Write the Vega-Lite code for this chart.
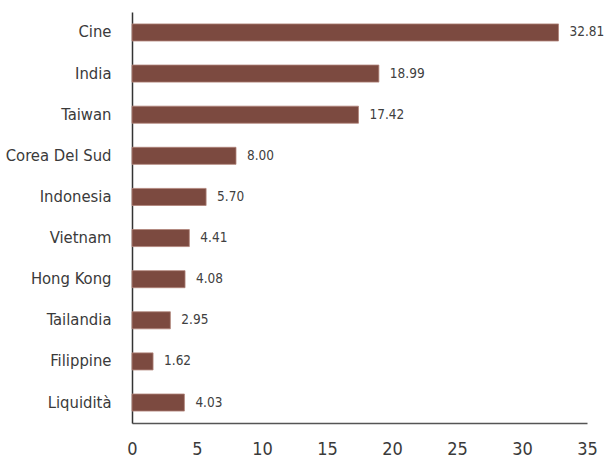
{
  "$schema": "https://vega.github.io/schema/vega-lite/v6.json",
  "autosize": {"type": "none"},
  "width": 455,
  "height": 411,
  "padding": {"left": 132, "top": 12, "right": 17, "bottom": 35},
  "background": "white",
  "config": {"view": {"stroke": null}, "font": "DejaVu Sans Condensed"},
  "data": {
    "values": [
      {"paese": "Cine", "valore": 32.81},
      {"paese": "India", "valore": 18.99},
      {"paese": "Taiwan", "valore": 17.42},
      {"paese": "Corea Del Sud", "valore": 8.00},
      {"paese": "Indonesia", "valore": 5.70},
      {"paese": "Vietnam", "valore": 4.41},
      {"paese": "Hong Kong", "valore": 4.08},
      {"paese": "Tailandia", "valore": 2.95},
      {"paese": "Filippine", "valore": 1.62},
      {"paese": "Liquidità", "valore": 4.03}
    ]
  },
  "encoding": {
    "y": {
      "field": "paese", "type": "nominal", "sort": null,
      "scale": {"paddingInner": 0.585, "paddingOuter": 0.29},
      "axis": {"title": null, "ticks": false, "domainColor": "#333333", "domainWidth": 1.5,
               "labelFont": "DejaVu Sans Condensed", "labelFontSize": 16.5, "labelColor": "#3a3a3a",
               "labelPadding": 21}
    },
    "x": {
      "field": "valore", "type": "quantitative",
      "scale": {"domain": [0, 35], "nice": false},
      "axis": {"title": null, "values": [0, 5, 10, 15, 20, 25, 30, 35], "grid": false, "ticks": false,
               "domainColor": "#555555", "domainWidth": 1.5,
               "labelFont": "DejaVu Sans Condensed", "labelFontSize": 18, "labelColor": "#3a3a3a",
               "labelPadding": 17, "labelBaseline": "top", "labelFlush": false}
    }
  },
  "layer": [
    {"mark": {"type": "bar", "color": "#7c4a40", "stroke": "#b08378", "strokeWidth": 0.8}},
    {"mark": {"type": "text", "align": "left", "dx": 11, "fontSize": 13.5, "color": "#404040", "font": "DejaVu Sans Condensed"},
     "encoding": {"text": {"field": "valore", "type": "quantitative", "format": ".2f"}}}
  ]
}
